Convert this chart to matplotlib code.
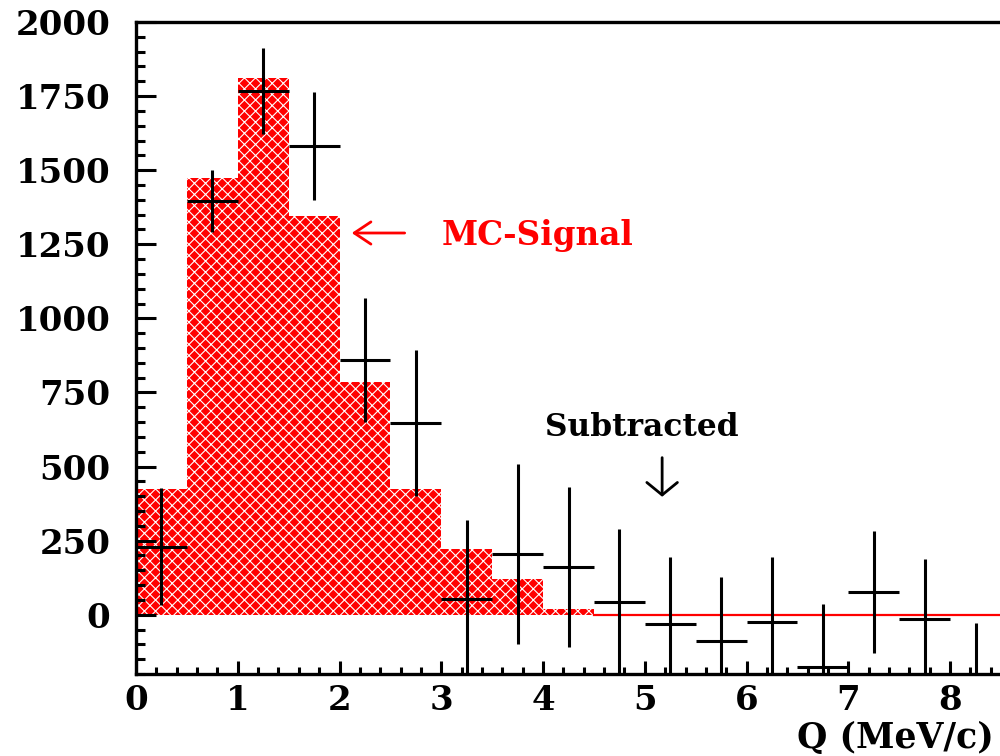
import numpy as np
import matplotlib
matplotlib.use("Agg")
import matplotlib.pyplot as plt
from matplotlib.ticker import MultipleLocator

# ---- data ----
bin_edges = np.arange(0, 9.0, 0.5)            # 0 .. 8.5
mc_signal = [425, 1475, 1810, 1345, 785, 425, 222, 120, 20,
             0, 0, 0, 0, 0, 0, 0, 0]
data_x = [0.25, 0.75, 1.25, 1.75, 2.25, 2.75, 3.25, 3.75, 4.25,
          4.75, 5.25, 5.75, 6.25, 6.75, 7.25, 7.75, 8.25]
data_y = [230, 1396, 1767, 1582, 860, 648, 54, 205, 162,
          44, -30, -90, -23, -175, 77, -14, -230]
data_err = [198, 105, 145, 183, 210, 246, 266, 305, 270,
            246, 226, 218, 219, 212, 207, 203, 203]
x_ticks = [0, 1, 2, 3, 4, 5, 6, 7, 8]
y_ticks = [0, 250, 500, 750, 1000, 1250, 1500, 1750, 2000]

FONT = dict(family="DejaVu Serif", weight="bold")

plt.rcParams["hatch.linewidth"] = 0.8
fig = plt.figure(figsize=(10, 7.56), dpi=100)
ax = fig.add_axes([0.136, 0.1085, 0.864, 0.8624])

centers = (bin_edges[:-1] + bin_edges[1:]) / 2
# filled red histogram
ax.bar(centers, mc_signal, width=0.5, color="red", linewidth=0, zorder=1)
# white checker-like texture on top
ax.bar(centers, mc_signal, width=0.5, facecolor="none", edgecolor="white",
       hatch="xxx", linewidth=0, zorder=1.2)
ax.plot([4.5, 8.5], [0, 0], color="red", lw=1.6, zorder=2)

ax.errorbar(data_x, data_y, yerr=data_err, xerr=0.25, fmt="none",
            ecolor="black", elinewidth=2.2, capsize=0, zorder=3)

ax.set_xlim(0, 8.49)
ax.set_ylim(-200, 2000)

ax.set_xticks(x_ticks)
ax.set_yticks(y_ticks)
ax.xaxis.set_minor_locator(MultipleLocator(0.2))
ax.yaxis.set_minor_locator(MultipleLocator(50))
ax.tick_params(axis="y", which="major", direction="in", length=14.4,
               width=2.2, pad=18.5, left=True, right=False)
ax.tick_params(axis="y", which="minor", direction="in", length=6.5,
               width=2.2, left=True, right=False)
ax.tick_params(axis="x", which="major", direction="in", length=9.4,
               width=2.2, pad=7, bottom=True, top=False)
ax.tick_params(axis="x", which="minor", direction="in", length=5,
               width=2.2, bottom=True, top=False)
for lab in ax.get_xticklabels() + ax.get_yticklabels():
    lab.set_fontfamily("DejaVu Serif")
    lab.set_fontweight("bold")
    lab.set_fontsize(24.5)

for s in ["left", "bottom", "top"]:
    ax.spines[s].set_linewidth(2.4)
ax.spines["right"].set_visible(False)

# annotations
ax.text(3.0, 1278, "MC-Signal", color="red", fontsize=23.5, va="center",
        ha="left", **FONT)
ax.annotate("", xy=(2.12, 1288), xytext=(2.64, 1288),
            arrowprops=dict(arrowstyle="->,head_length=0.6,head_width=0.4",
                            color="red", lw=2, mutation_scale=20,
                            shrinkA=0, shrinkB=0))
ax.text(4.97, 631, "Subtracted", color="black", fontsize=22.5, va="center",
        ha="center", **FONT)
ax.annotate("", xy=(5.17, 398), xytext=(5.17, 530),
            arrowprops=dict(arrowstyle="->,head_length=0.45,head_width=0.55",
                            color="black", lw=2, mutation_scale=20,
                            shrinkA=0, shrinkB=0))

fig.text(0.994, 0.0106, "Q (MeV/c)", ha="right", va="baseline",
         fontsize=25, **FONT)

fig.savefig("out.png", dpi=100)
